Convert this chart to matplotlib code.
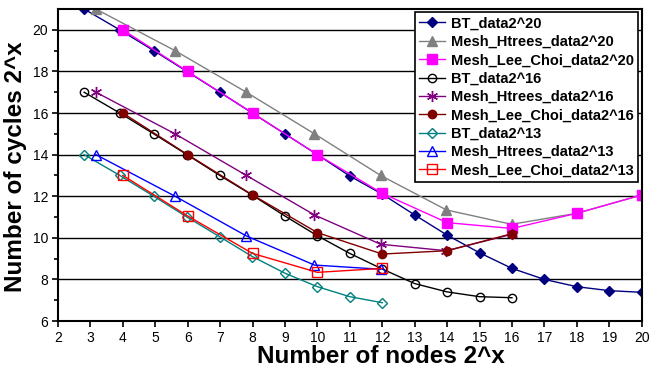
import matplotlib
matplotlib.use('Agg')
import matplotlib.pyplot as plt
import numpy as np

plt.rcParams['font.family'] = ['Liberation Sans', 'DejaVu Sans']

# x positions (log2 of node count) for each topology
x_bt = [2.807, 3.907, 4.954, 5.977, 6.989, 7.994, 8.997, 10, 11, 12, 13, 14, 15, 16, 17, 18, 19, 20]
x_ht = [3.17, 5.61, 7.81, 9.91, 11.95, 13.98, 15.99, 18, 20]
x_lc = [4, 6, 8, 10, 12, 14, 16, 18, 20]

bt_20 = [21, 20, 19, 18, 17, 16, 15, 14, 12.97, 12.1, 11.1, 10.13, 9.28, 8.53, 8.0, 7.65, 7.46, 7.38]
ht_20 = [21, 19, 17, 15, 13.0, 11.34, 10.65, 11.18, 12.06]
lc_20 = [20, 18, 16, 14, 12.14, 10.73, 10.45, 11.18, 12.06]

bt_16 = [17, 16, 15, 14, 13, 12.05, 11.05, 10.1, 9.25, 8.5, 7.8, 7.4, 7.17, 7.12]
ht_16 = [17, 15, 13, 11.1, 9.69, 9.38, 10.17]
lc_16 = [16, 14, 12.06, 10.25, 9.22, 9.38, 10.2]

bt_13 = [14, 13, 12, 11, 10.05, 9.1, 8.3, 7.65, 7.17, 6.88]
ht_13 = [14, 12, 10.09, 8.69, 8.49]
lc_13 = [13, 11.05, 9.25, 8.34, 8.53]

labels = ['BT_data2^20', 'Mesh_Htrees_data2^20', 'Mesh_Lee_Choi_data2^20',
          'BT_data2^16', 'Mesh_Htrees_data2^16', 'Mesh_Lee_Choi_data2^16',
          'BT_data2^13', 'Mesh_Htrees_data2^13', 'Mesh_Lee_Choi_data2^13']

fig = plt.figure(figsize=(6.5, 3.67), dpi=100)
ax = fig.add_axes([0.0892, 0.1253, 0.898, 0.850])

lw = 1.0
ax.plot(x_bt, bt_20, color='#000080', marker='D', ms=5, lw=lw, label=labels[0])
ax.plot(x_ht, ht_20, color='#808080', marker='^', ms=7, lw=lw, label=labels[1])
ax.plot(x_lc, lc_20, color='#FF00FF', marker='s', ms=7, lw=lw, label=labels[2])
ax.plot(x_bt[:len(bt_16)], bt_16, color='black', marker='o', ms=6, mfc='none', lw=lw, label=labels[3])
ax.plot(x_ht[:len(ht_16)], ht_16, color='#800080', marker=(6, 2, 0), ms=8, lw=lw, label=labels[4])
ax.plot(x_lc[:len(lc_16)], lc_16, color='#800000', marker='o', ms=6, lw=lw, label=labels[5])
ax.plot(x_bt[:len(bt_13)], bt_13, color='#008080', marker='D', ms=5, mfc='none', lw=lw, label=labels[6])
ax.plot(x_ht[:len(ht_13)], ht_13, color='#0000FF', marker='^', ms=7, mfc='none', lw=lw, label=labels[7])
ax.plot(x_lc[:len(lc_13)], lc_13, color='#FF0000', marker='s', ms=7, mfc='none', lw=lw, label=labels[8])

ax.set_xlim(2, 20)
ax.set_ylim(6, 21)
ax.set_xticks(np.arange(2, 21, 1))
ax.set_yticks(np.arange(6, 21, 2))
ax.set_yticks(np.arange(7, 21, 2), minor=True)
ax.tick_params(axis='both', labelsize=10, direction='out', length=4, width=1.2, pad=3)
ax.tick_params(axis='y', which='minor', length=3, width=1.2)
ax.grid(axis='y', which='major', color='black', lw=1.0)
ax.set_axisbelow(True)
for s in ax.spines.values():
    s.set_linewidth(1.5)

ax.set_xlabel('Number of nodes 2^x', fontsize=17.5, fontweight='bold')
ax.set_ylabel('Number of cycles 2^x', fontsize=17.5, fontweight='bold')
ax.xaxis.set_label_coords(0.553, -0.078)
ax.yaxis.set_label_coords(-0.053, 0.495)

leg = ax.legend(loc='upper right', bbox_to_anchor=(0.9935, 0.99),
                prop={'weight': 'bold', 'size': 10.5}, fancybox=False, framealpha=1,
                edgecolor='black', handlelength=1.8, borderpad=0.3, labelspacing=0.3,
                handletextpad=0.35, borderaxespad=0)
leg.get_frame().set_linewidth(1.2)

fig.savefig('out.png', dpi=100)
